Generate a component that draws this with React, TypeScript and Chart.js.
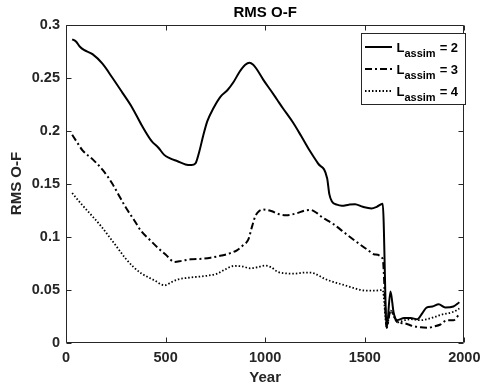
import React, { useEffect, useRef } from "react";
import { Chart, registerables } from "chart.js";

Chart.register(...registerables);

const l2Years = [31, 50, 70, 90, 133, 183, 232, 282, 331, 380, 430, 463, 493, 520, 560, 600, 630, 650, 669, 690, 710, 740, 776, 810, 842, 870, 900, 921, 940, 957, 990, 1031, 1060, 1089, 1138, 1180, 1220, 1265, 1311, 1322, 1335, 1360, 1385, 1420, 1451, 1490, 1534, 1560, 1590, 1610, 1629, 1645, 1662, 1698, 1730, 1764, 1790, 1810, 1840, 1871, 1904, 1945, 1975];
const l2Values = [0.286, 0.284, 0.279, 0.276, 0.272, 0.263, 0.25, 0.236, 0.222, 0.205, 0.19, 0.184, 0.177, 0.174, 0.171, 0.168, 0.1675, 0.169, 0.18, 0.196, 0.209, 0.221, 0.232, 0.238, 0.246, 0.255, 0.262, 0.264, 0.262, 0.258, 0.248, 0.237, 0.229, 0.221, 0.208, 0.195, 0.182, 0.169, 0.155, 0.14, 0.133, 0.13, 0.129, 0.13, 0.1305, 0.128, 0.1265, 0.128, 0.131, 0.014, 0.048, 0.028, 0.021, 0.023, 0.023, 0.022, 0.028, 0.033, 0.034, 0.036, 0.033, 0.034, 0.038];

const l3Years = [31, 55, 84, 133, 183, 232, 265, 298, 340, 380, 420, 463, 500, 545, 580, 627, 680, 726, 780, 820, 858, 890, 915, 935, 950, 970, 990, 1030, 1070, 1105, 1160, 1200, 1229, 1260, 1287, 1340, 1402, 1451, 1517, 1550, 1590, 1610, 1629, 1665, 1700, 1739, 1781, 1820, 1846, 1880, 1912, 1945, 1975];
const l3Values = [0.196, 0.189, 0.181, 0.173, 0.163, 0.15, 0.139, 0.128, 0.116, 0.1045, 0.097, 0.089, 0.083, 0.076, 0.077, 0.0785, 0.079, 0.08, 0.082, 0.084, 0.087, 0.092, 0.097, 0.11, 0.119, 0.124, 0.1255, 0.124, 0.121, 0.12, 0.122, 0.1245, 0.125, 0.122, 0.118, 0.112, 0.103, 0.096, 0.087, 0.083, 0.079, 0.014, 0.03, 0.019, 0.018, 0.0156, 0.0143, 0.014, 0.015, 0.017, 0.021, 0.021, 0.027];

const l4Years = [31, 80, 133, 175, 216, 260, 298, 340, 380, 440, 496, 530, 562, 610, 660, 710, 759, 800, 842, 880, 924, 960, 998, 1030, 1060, 1089, 1150, 1200, 1229, 1260, 1300, 1336, 1400, 1451, 1500, 1550, 1590, 1610, 1629, 1665, 1700, 1731, 1780, 1813, 1850, 1879, 1945, 1975];
const l4Values = [0.141, 0.13, 0.119, 0.11, 0.1, 0.089, 0.0795, 0.071, 0.065, 0.059, 0.054, 0.057, 0.0595, 0.061, 0.062, 0.063, 0.065, 0.069, 0.0722, 0.072, 0.07, 0.071, 0.0725, 0.071, 0.067, 0.0655, 0.065, 0.066, 0.066, 0.064, 0.06, 0.0575, 0.054, 0.051, 0.049, 0.0489, 0.0495, 0.015, 0.03, 0.019, 0.021, 0.022, 0.021, 0.022, 0.024, 0.026, 0.029, 0.032];

const xTickLabels = ["0", "500", "1000", "1500", "2000"];
const yTickLabels = ["0", "0.05", "0.1", "0.15", "0.2", "0.25", "0.3"];
const legendMain = ["L", "L", "L"];
const legendSub = ["assim", "assim", "assim"];
const legendTail = ["= 2", "= 3", "= 4"];

const INK = "#262626";
const FONT = "'Liberation Sans', Arial, Helvetica, sans-serif";

const toPoints = (xs: number[], ys: number[]) => xs.map((x, i) => ({ x, y: ys[i] }));

const framePlugin = {
  id: "frame",
  afterDatasetsDraw(chart: any) {
    const { ctx, chartArea: a, scales } = chart;
    ctx.save();
    ctx.strokeStyle = INK;
    ctx.lineWidth = 1;
    const L = Math.round(a.left) + 0.5;
    const R = Math.round(a.right) - 0.5;
    const T = Math.round(a.top) + 0.5;
    const B = Math.round(a.bottom) - 0.5;
    ctx.beginPath();
    ctx.rect(L, T, R - L, B - T);
    ctx.stroke();
    const tl = 5;
    ctx.beginPath();
    scales.x.ticks.forEach((t: any) => {
      const px = Math.round(scales.x.getPixelForValue(t.value)) + 0.5;
      ctx.moveTo(px, B);
      ctx.lineTo(px, B - tl);
      ctx.moveTo(px, T);
      ctx.lineTo(px, T + tl);
    });
    scales.y.ticks.forEach((t: any) => {
      const py = Math.round(scales.y.getPixelForValue(t.value)) + 0.5;
      ctx.moveTo(L, py);
      ctx.lineTo(L + tl, py);
      ctx.moveTo(R, py);
      ctx.lineTo(R - tl, py);
    });
    ctx.stroke();

    // legend
    const bx = 361.5, by = 33.5, bw = 104, bh = 71;
    ctx.fillStyle = "#ffffff";
    ctx.fillRect(bx, by, bw, bh);
    ctx.strokeStyle = INK;
    ctx.strokeRect(bx, by, bw, bh);
    const rows = [47, 69, 91];
    chart.data.datasets.forEach((ds: any, i: number) => {
      const ry = rows[i];
      ctx.save();
      ctx.strokeStyle = ds.borderColor;
      ctx.lineWidth = ds.borderWidth;
      ctx.setLineDash(ds.borderDash || []);
      ctx.beginPath();
      ctx.moveTo(365, ry);
      ctx.lineTo(392, ry);
      ctx.stroke();
      ctx.restore();
      ctx.fillStyle = "#000000";
      ctx.textBaseline = "alphabetic";
      ctx.textAlign = "left";
      ctx.font = `bold 13px ${FONT}`;
      ctx.fillText(legendMain[i], 396.5, ry + 4.5);
      const lw = ctx.measureText(legendMain[i]).width;
      ctx.font = `bold 11px ${FONT}`;
      ctx.fillText(legendSub[i], 396.5 + lw, ry + 10);
      const sw = ctx.measureText(legendSub[i]).width;
      ctx.font = `bold 13px ${FONT}`;
      ctx.fillText(legendTail[i], 396.5 + lw + sw + 4, ry + 4.5);
    });
    ctx.restore();
  },
};

export default function App() {
  const ref = useRef<HTMLCanvasElement | null>(null);
  useEffect(() => {
    document.body.style.margin = "0";
    if (!ref.current) return;
    Chart.defaults.font.family = FONT;
    const chart = new Chart(ref.current, {
      type: "line",
      data: {
        datasets: [
          {
            label: "L_assim = 2",
            data: toPoints(l2Years, l2Values),
            borderColor: "#000000",
            borderWidth: 2,
            pointRadius: 0,
            cubicInterpolationMode: "monotone",
            fill: false,
          },
          {
            label: "L_assim = 3",
            data: toPoints(l3Years, l3Values),
            borderColor: "#000000",
            borderWidth: 2,
            borderDash: [7, 3, 2, 3],
            pointRadius: 0,
            cubicInterpolationMode: "monotone",
            fill: false,
          },
          {
            label: "L_assim = 4",
            data: toPoints(l4Years, l4Values),
            borderColor: "#000000",
            borderWidth: 1.8,
            borderDash: [1.5, 2],
            pointRadius: 0,
            cubicInterpolationMode: "monotone",
            fill: false,
          },
        ],
      },
      options: {
        animation: false,
        responsive: false,
        devicePixelRatio: 1,
        layout: { padding: { left: 0, right: 16, top: 0, bottom: 0 } },
        plugins: {
          legend: { display: false },
          tooltip: { enabled: false },
          title: {
            display: true,
            text: "RMS O-F",
            fullSize: false,
            color: "#000000",
            font: { size: 15, weight: "bold", family: FONT },
            padding: { top: 4, bottom: 2.5 },
          },
        },
        scales: {
          x: {
            type: "linear",
            min: 0,
            max: 2000,
            grid: { display: false, drawTicks: false },
            border: { display: false },
            ticks: {
              stepSize: 500,
              padding: 6.5,
              color: INK,
              maxRotation: 0,
              font: { size: 14.5, weight: "bold", family: FONT },
              callback: (_v: any, i: number) => xTickLabels[i],
            },
            title: {
              display: true,
              text: "Year",
              color: INK,
              font: { size: 15, weight: "bold", family: FONT },
              padding: { top: 5, bottom: 5 },
            },
            afterFit: (s: any) => {
              s.height = 49.5;
            },
          },
          y: {
            type: "linear",
            min: 0,
            max: 0.3,
            grid: { display: false, drawTicks: false },
            border: { display: false },
            ticks: {
              stepSize: 0.05,
              padding: 6,
              color: INK,
              font: { size: 14.5, weight: "bold", family: FONT },
              callback: (_v: any, i: number) => yTickLabels[i],
            },
            title: {
              display: true,
              text: "RMS O-F",
              color: INK,
              font: { size: 15, weight: "bold", family: FONT },
              padding: { top: 8, bottom: 8 },
            },
            afterFit: (s: any) => {
              s.width = 66;
            },
          },
        },
      },
      plugins: [framePlugin],
    });
    return () => chart.destroy();
  }, []);
  return (
    <div style={{ width: 487, height: 392, background: "#fff" }}>
      <canvas ref={ref} width={487} height={392} />
    </div>
  );
}
